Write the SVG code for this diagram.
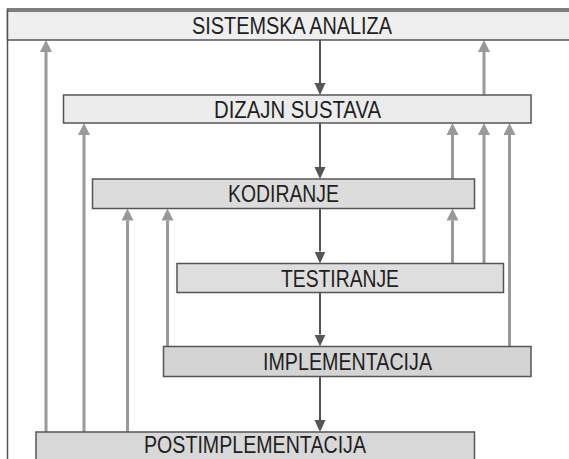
<svg xmlns="http://www.w3.org/2000/svg" width="569" height="459" viewBox="0 0 569 459">
  <defs>
    <style>
      .box { stroke: #555; stroke-width: 1.5; }
      .lbl { font-family: "Liberation Sans", Arial, sans-serif; font-size: 23px; fill: #1e1e1e; text-anchor: middle; }
      .down { stroke: #555; stroke-width: 2; fill: none; }
      .up { stroke: #999; stroke-width: 3; fill: none; }
      .frame { stroke: #555; stroke-width: 1.5; fill: none; }
    </style>
    <marker id="hd" viewBox="0 0 12 12" refX="0" refY="6" markerWidth="12" markerHeight="12" markerUnits="userSpaceOnUse" orient="auto">
      <path d="M0,0.5 L12,6 L0,11.5 z" fill="#555"/>
    </marker>
    <marker id="hu" viewBox="0 0 12 12" refX="0" refY="6" markerWidth="12" markerHeight="12" markerUnits="userSpaceOnUse" orient="auto">
      <path d="M0,0 L12,6 L0,12 z" fill="#999"/>
    </marker>
  </defs>
  <rect width="569" height="459" fill="#fff"/>
  <path class="frame" d="M7.5,459 L7.5,9 L569,9"/>

  <g id="connectors">
    <line class="down" x1="320" y1="40" x2="320" y2="83" marker-end="url(#hd)"/>
    <line class="down" x1="320" y1="123" x2="320" y2="167" marker-end="url(#hd)"/>
    <line class="down" x1="320" y1="208.5" x2="320" y2="251.5" marker-end="url(#hd)"/>
    <line class="down" x1="320" y1="292.5" x2="320" y2="334.5" marker-end="url(#hd)"/>
    <line class="down" x1="320" y1="376.5" x2="320" y2="420" marker-end="url(#hd)"/>

    <line class="up" x1="46" y1="432" x2="46" y2="52" marker-end="url(#hu)"/>
    <line class="up" x1="84" y1="432" x2="84" y2="135" marker-end="url(#hu)"/>
    <line class="up" x1="127.5" y1="432" x2="127.5" y2="220.5" marker-end="url(#hu)"/>
    <line class="up" x1="167.5" y1="346.5" x2="167.5" y2="220.5" marker-end="url(#hu)"/>
    <line class="up" x1="484" y1="95" x2="484" y2="52" marker-end="url(#hu)"/>
    <line class="up" x1="452.5" y1="179" x2="452.5" y2="135" marker-end="url(#hu)"/>
    <line class="up" x1="484" y1="263.5" x2="484" y2="135" marker-end="url(#hu)"/>
    <line class="up" x1="452.5" y1="263.5" x2="452.5" y2="220.5" marker-end="url(#hu)"/>
    <line class="up" x1="509.5" y1="346.5" x2="509.5" y2="135" marker-end="url(#hu)"/>
  </g>

  <g id="sistemska-analiza">
    <rect class="box" x="7.5" y="11" width="570" height="29" fill="#efefef"/>
    <text class="lbl" x="292" y="33.5" textLength="200" lengthAdjust="spacingAndGlyphs">SISTEMSKA ANALIZA</text>
  </g>
  <g id="dizajn-sustava">
    <rect class="box" x="63.5" y="95" width="467.5" height="28" fill="#ececec"/>
    <text class="lbl" x="297.5" y="117.5" textLength="167" lengthAdjust="spacingAndGlyphs">DIZAJN SUSTAVA</text>
  </g>
  <g id="kodiranje">
    <rect class="box" x="92.5" y="179" width="382" height="29.5" fill="#dcdcdc"/>
    <text class="lbl" x="283.5" y="201.5" textLength="111" lengthAdjust="spacingAndGlyphs">KODIRANJE</text>
  </g>
  <g id="testiranje">
    <rect class="box" x="177" y="263.5" width="326.5" height="29" fill="#dedede"/>
    <text class="lbl" x="340" y="287" textLength="118" lengthAdjust="spacingAndGlyphs">TESTIRANJE</text>
  </g>
  <g id="implementacija">
    <rect class="box" x="163.5" y="346.5" width="367.5" height="30" fill="#d4d4d4"/>
    <text class="lbl" x="347.5" y="370" textLength="169" lengthAdjust="spacingAndGlyphs">IMPLEMENTACIJA</text>
  </g>
  <g id="postimplementacija">
    <rect class="box" x="36" y="432" width="438.5" height="40" fill="#d8d8d8"/>
    <text class="lbl" x="255" y="453" textLength="222" lengthAdjust="spacingAndGlyphs">POSTIMPLEMENTACIJA</text>
  </g>
</svg>
